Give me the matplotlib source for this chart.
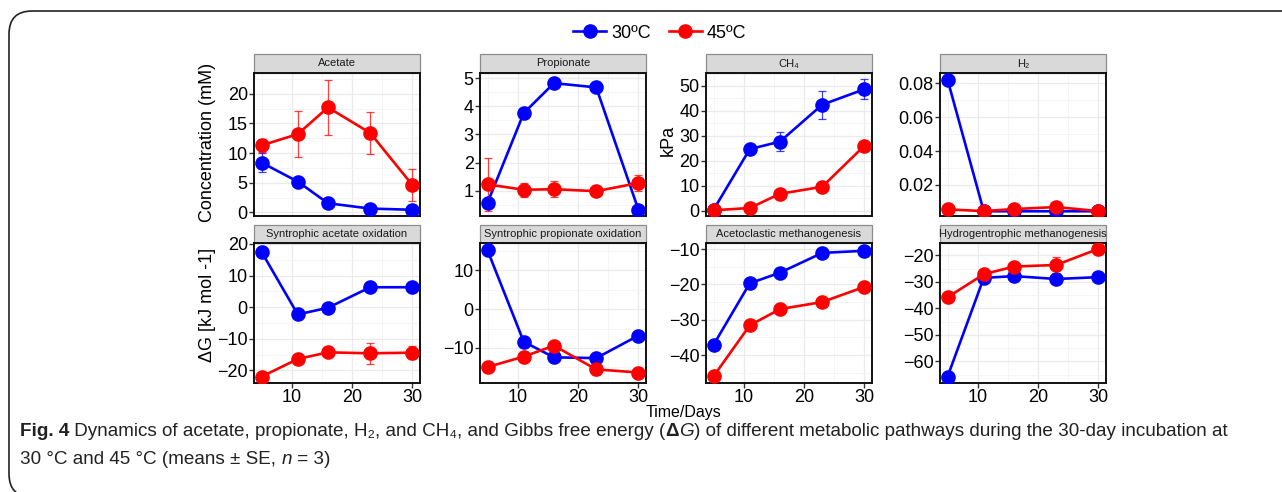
import matplotlib
matplotlib.use("Agg")
import matplotlib.pyplot as plt
from matplotlib.patches import Rectangle, FancyBboxPatch
from matplotlib.ticker import AutoMinorLocator, FixedLocator
from matplotlib import font_manager

# ---------------- data ----------------
days = [5, 11, 16, 23, 30]

acetate_30 = [8.4, 5.2, 1.55, 0.65, 0.45]
acetate_30_err = [1.6, 0.3, 0.25, 0.2, 0.15]
acetate_45 = [11.3, 13.2, 17.7, 13.4, 4.6]
acetate_45_err = [1.05, 3.9, 4.6, 3.5, 2.7]

propionate_30 = [0.58, 3.76, 4.82, 4.67, 0.33]
propionate_30_err = [0.05, 0.05, 0.05, 0.1, 0.03]
propionate_45 = [1.23, 1.04, 1.06, 0.99, 1.28]
propionate_45_err = [0.95, 0.24, 0.28, 0.05, 0.27]

ch4_30 = [0.3, 24.6, 27.6, 42.4, 48.6]
ch4_30_err = [0.2, 0.8, 3.8, 5.6, 4.1]
ch4_45 = [0.1, 1.0, 6.7, 9.5, 26.0]
ch4_45_err = [0.1, 0.2, 0.5, 2.0, 0.5]

h2_30 = [0.0822, 0.0044, 0.0044, 0.0044, 0.0044]
h2_30_err = [0.0003, 0.0002, 0.0002, 0.0002, 0.0002]
h2_45 = [0.0055, 0.0045, 0.0057, 0.0069, 0.0045]
h2_45_err = [0.0002, 0.0002, 0.0002, 0.0003, 0.0002]

sao_30 = [17.5, -2.3, -0.2, 6.3, 6.3]
sao_30_err = [0.3, 0.3, 0.3, 0.3, 0.3]
sao_45 = [-22.0, -16.4, -14.3, -14.6, -14.4]
sao_45_err = [0.4, 0.4, 1.2, 3.3, 2.0]

spo_30 = [15.1, -8.4, -12.4, -12.6, -6.8]
spo_30_err = [0.3, 0.3, 0.3, 0.3, 0.3]
spo_45 = [-14.9, -12.2, -9.4, -15.5, -16.3]
spo_45_err = [1.3, 0.4, 1.0, 1.5, 0.3]

am_30 = [-37.1, -19.7, -16.7, -11.1, -10.5]
am_30_err = [0.3, 0.3, 0.3, 0.3, 0.3]
am_45 = [-46.0, -31.6, -27.0, -25.0, -20.7]
am_45_err = [0.3, 0.3, 0.8, 0.3, 0.3]

hm_30 = [-65.8, -28.5, -27.8, -28.9, -28.2]
hm_30_err = [0.3, 0.3, 0.3, 0.3, 0.3]
hm_45 = [-35.8, -27.1, -24.2, -23.6, -17.5]
hm_45_err = [0.4, 0.4, 1.5, 3.1, 0.4]

titles = ["Acetate", "Propionate", "CH\u2084", "H\u2082",
          "Syntrophic acetate oxidation", "Syntrophic propionate oxidation",
          "Acetoclastic methanogenesis", "Hydrogentrophic methanogenesis"]
series = [
    (acetate_30, acetate_30_err, acetate_45, acetate_45_err),
    (propionate_30, propionate_30_err, propionate_45, propionate_45_err),
    (ch4_30, ch4_30_err, ch4_45, ch4_45_err),
    (h2_30, h2_30_err, h2_45, h2_45_err),
    (sao_30, sao_30_err, sao_45, sao_45_err),
    (spo_30, spo_30_err, spo_45, spo_45_err),
    (am_30, am_30_err, am_45, am_45_err),
    (hm_30, hm_30_err, hm_45, hm_45_err),
]
yticks = [
    [0, 5, 10, 15, 20], [1, 2, 3, 4, 5], [0, 10, 20, 30, 40, 50],
    [0.02, 0.04, 0.06, 0.08],
    [-20, -10, 0, 10, 20], [-10, 0, 10], [-40, -30, -20, -10],
    [-60, -50, -40, -30, -20],
]
ylims = [(-0.6, 23.5), (0.11, 5.18), (-2.2, 55.1), (0.0016, 0.0861),
         (-24.0, 20.3), (-19.0, 17.0), (-47.9, -8.3), (-68.2, -15.3)]
xticks = [10, 20, 30]
series_labels = ["30\u00baC", "45\u00baC"]
colors = ["#0000FF", "#FF0000"]

# ---------------- fonts ----------------
avail = {f.name for f in font_manager.fontManager.ttflist}
base_family = ["Liberation Sans", "DejaVu Sans"]
cap_family = (["Liberation Sans Narrow", "DejaVu Sans"]
              if "Liberation Sans Narrow" in avail else ["Liberation Sans", "DejaVu Sans"])
plt.rcParams["font.family"] = base_family

W, H = 1282, 492
fig = plt.figure(figsize=(W / 100, H / 100), dpi=100)

# outer rounded frame (right and bottom run off the picture)
frame = FancyBboxPatch((9 / W, -5 / H), 1320 / W, (486) / H,
                       boxstyle="round,pad=0,rounding_size=0.018",
                       transform=fig.transFigure, fill=False, clip_on=False,
                       edgecolor="#222222", linewidth=1.2, mutation_aspect=W / H)
fig.patches.append(frame)

lefts = [254, 480, 706, 940]
pw = 166
rows = [(73, 216, 19), (243, 383, 18)]  # top, bottom, strip height

axes = []
for r, (top, bot, sh) in enumerate(rows):
    for c in range(4):
        i = r * 4 + c
        ax = fig.add_axes([lefts[c] / W, (H - bot) / H, pw / W, (bot - top) / H])
        y30, e30, y45, e45 = series[i]
        for yv, ev, col in ((y30, e30, colors[0]), (y45, e45, colors[1])):
            ax.errorbar(days, yv, yerr=ev, fmt="none", ecolor=col, elinewidth=0.9,
                        capsize=3, capthick=0.9, alpha=0.75, zorder=3)
        ax.plot(days, y30, "-o", color=colors[0], lw=1.9, ms=9.5, zorder=4,
                label=series_labels[0])
        ax.plot(days, y45, "-o", color=colors[1], lw=1.9, ms=9.5, zorder=5,
                label=series_labels[1])
        ax.set_xlim(3.75, 31.25)
        ax.set_ylim(*ylims[i])
        ax.xaxis.set_major_locator(FixedLocator(xticks))
        ax.xaxis.set_minor_locator(FixedLocator([5, 15, 25]))
        ax.yaxis.set_major_locator(FixedLocator(yticks[i]))
        ax.yaxis.set_minor_locator(AutoMinorLocator(2))
        ax.grid(True, which="major", color="#EBEBEB", lw=0.9, zorder=0)
        ax.grid(True, which="minor", color="#F4F4F4", lw=0.6, zorder=0)
        ax.set_axisbelow(True)
        for s in ax.spines.values():
            s.set_linewidth(1.4)
            s.set_color("#111111")
        ax.tick_params(which="minor", length=0)
        ax.tick_params(which="major", length=3.5, width=1.0, color="#333333",
                       labelsize=13, pad=1, labelcolor="black")
        if r == 0:
            ax.tick_params(axis="x", which="both", length=0, labelbottom=False)
        else:
            ax.tick_params(axis="x", pad=1)
        # strip
        ax.add_patch(Rectangle((0, 1.0), 1, sh / (bot - top), transform=ax.transAxes,
                               facecolor="#D9D9D9", edgecolor="#8C8C8C", lw=0.9,
                               clip_on=False, zorder=1))
        ax.text(0.5, 1.0 + sh / (bot - top) / 2, titles[i], transform=ax.transAxes,
                ha="center", va="center", fontsize=8.0, color="#1A1A1A",
                family=["Liberation Sans", "DejaVu Sans"])
        axes.append(ax)

# axis titles
fig.text(208 / W, 1 - 142 / H, "Concentration (mM)", rotation=90, ha="center",
         va="center", fontsize=13)
fig.text(668 / W, 1 - 140 / H, "kPa", rotation=90, ha="center", va="center",
         fontsize=13)
fig.text(208 / W, 1 - 305 / H, "\u0394G [kJ mol -1]", rotation=90, ha="center",
         va="center", fontsize=13)
fig.text(683 / W, 1 - 413 / H, "Time/Days", ha="center", va="center", fontsize=11.5)

# legend
handles, labels = axes[0].get_legend_handles_labels()
fig.legend(handles, labels, loc="center", bbox_to_anchor=(660 / W, 1 - 33 / H),
           ncol=2, frameon=False, fontsize=13, handlelength=1.8,
           handletextpad=0.3, columnspacing=1.0, borderaxespad=0)

# caption with mixed styles
fig.canvas.draw()
renderer = fig.canvas.get_renderer()


def write_line(pieces, x0, yc, size):
    x = x0
    for txt, style in pieces:
        kw = dict(fontsize=size, va="center", ha="left", family=cap_family,
                  color="#222222")
        if style == "bold":
            kw["fontweight"] = "bold"
        if style == "italic":
            kw["fontstyle"] = "italic"
        t = fig.text(x / W, 1 - yc / H, txt, **kw)
        bb = t.get_window_extent(renderer=renderer)
        x = bb.x1


cap_size = 13.6
write_line([("Fig. 4", "bold"),
            (" Dynamics of acetate, propionate, H\u2082, and CH\u2084, and Gibbs free energy (", "normal"),
            ("\u0394", "bold"), ("G", "italic"),
            (") of different metabolic pathways during the 30-day incubation at", "normal")],
           20, 432, cap_size)
write_line([("30 \u00b0C and 45 \u00b0C (means \u00b1 SE, ", "normal"), ("n", "italic"),
            (" = 3)", "normal")], 20, 459, cap_size)

fig.savefig("out.png", dpi=100)
